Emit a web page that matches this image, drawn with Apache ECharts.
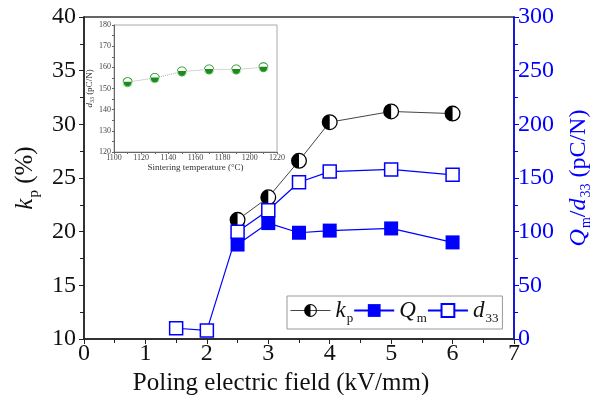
<!DOCTYPE html>
<html>
<head>
<meta charset="utf-8">
<script src="https://cdn.jsdelivr.net/npm/echarts@6/dist/echarts.min.js"></script>
<style>
  html, body { margin: 0; padding: 0; background: #fff; }
  #chart { width: 595px; height: 395px; }
</style>
</head>
<body>
<div id="chart"></div>
<script>
// main plot: poling field (kV/mm)
const kpField = [2.5, 3, 3.5, 4, 5, 6]
const kpValues = [21.1, 23.2, 26.6, 30.2, 31.2, 31.0]
const qmField = [2.5, 3, 3.5, 4, 5, 6]
const qmValues = [88, 108, 99, 101, 103, 90]
const d33Field = [1.5, 2, 2.5, 3, 3.5, 4, 5, 6]
const d33Values = [10, 8, 100, 120, 146, 156, 158, 153]
// inset: sintering temperature
const sinterTemp = [1110, 1130, 1150, 1170, 1190, 1210]
const insetD33 = [153, 155, 158, 159, 159, 160]

const BLUE = '#0000ff'
const FONT = "'Liberation Serif', 'Times New Roman', serif"

function pairs(xs, ys) {
  return xs.map((x, i) => [x, ys[i]])
}

// ring + left half disk
const halfLeft = 'path://M10,0 A10,10 0 1 1 10,20 A10,10 0 1 1 10,0 Z ' +
  'M10,1.6 A8.4,8.4 0 1 0 10,18.4 A8.4,8.4 0 1 0 10,1.6 Z ' +
  'M10,20 A10,10 0 0 1 10,0 Z'
// ring + bottom half disk
const halfBottom = 'path://M10,0 A10,10 0 1 1 10,20 A10,10 0 1 1 10,0 Z ' +
  'M10,1.6 A8.4,8.4 0 1 0 10,18.4 A8.4,8.4 0 1 0 10,1.6 Z ' +
  'M0,9 A10,10 0 0 0 20,9 Z'

const chart = echarts.init(document.getElementById('chart'))

const mainLabel = { fontFamily: FONT, fontSize: 24, color: '#111' }
const insetLabel = { fontFamily: FONT, fontSize: 8, color: '#444', formatter: v => String(v) }

const legendNames = {
  kp: '{i|k}{s|p}',
  Qm: '{i|Q}{s|m}',
  d33: '{i|d}{s|33}'
}

chart.setOption({
  animation: false,
  backgroundColor: '#fff',
  grid: [
    {
      left: 84, top: 17, right: 81, bottom: 56, outerBoundsMode: 'none',
      show: true, borderColor: '#333', borderWidth: 1.5
    },
    {
      left: 114, top: 25, width: 163, height: 127, outerBoundsMode: 'none',
      show: true, borderColor: '#aaa', borderWidth: 1, backgroundColor: '#fff'
    }
  ],
  legend: {
    left: 287,
    top: 296,
    padding: [3, 4, 4, 3],
    borderColor: '#999',
    borderWidth: 1,
    backgroundColor: '#fff',
    itemGap: 0,
    itemWidth: 40,
    itemHeight: 16,
    data: [
      { name: 'kp', lineStyle: { color: '#444', width: 1, opacity: 1 } },
      { name: 'Qm' },
      { name: 'd33' }
    ],
    formatter: name => legendNames[name],
    textStyle: {
      rich: {
        i: { fontFamily: FONT, fontSize: 23, fontStyle: 'italic', color: '#111' },
        s: { fontFamily: FONT, fontSize: 13, color: '#111', padding: [16, 0, 0, 1] }
      }
    }
  },
  xAxis: [
    {
      type: 'value', gridIndex: 0, min: 0, max: 7, interval: 1,
      name: 'Poling electric field (kV/mm)',
      nameLocation: 'middle', nameGap: 26,
      nameTextStyle: { fontFamily: FONT, fontSize: 25, color: '#111', padding: [0, 36, 0, 0] },
      axisLine: { lineStyle: { color: '#222', width: 1.5 } },
      axisTick: { show: true, length: 5, lineStyle: { color: '#222' } },
      minorTick: { show: true, splitNumber: 2, length: 4, lineStyle: { color: '#222' } },
      splitLine: { show: false },
      axisLabel: Object.assign({ margin: 3 }, mainLabel)
    },
    {
      type: 'value', gridIndex: 1, min: 1100, max: 1220, interval: 20,
      name: 'Sintering temperature (°C)',
      nameLocation: 'middle', nameGap: 10,
      nameTextStyle: { fontFamily: FONT, fontSize: 9, color: '#333' },
      axisLine: { lineStyle: { color: '#666', width: 1 } },
      axisTick: { show: true, length: 2, lineStyle: { color: '#666' } },
      minorTick: { show: true, splitNumber: 2, length: 2, lineStyle: { color: '#666' } },
      splitLine: { show: false },
      axisLabel: Object.assign({ margin: 2 }, insetLabel)
    }
  ],
  yAxis: [
    {
      type: 'value', gridIndex: 0, min: 10, max: 40, interval: 5,
      name: '{i|k}{s|p}{n| (%)}',
      nameLocation: 'middle', nameGap: 40, nameRotate: 90,
      nameTextStyle: {
        rich: {
          i: { fontFamily: FONT, fontSize: 25, fontStyle: 'italic', color: '#111' },
          s: { fontFamily: FONT, fontSize: 15, color: '#111', padding: [16, 0, 0, 1] },
          n: { fontFamily: FONT, fontSize: 25, color: '#111' }
        }
      },
      axisLine: { show: true, lineStyle: { color: '#222', width: 1.5 } },
      axisTick: { show: true, length: 5, lineStyle: { color: '#222' } },
      minorTick: { show: true, splitNumber: 2, length: 4, lineStyle: { color: '#222' } },
      splitLine: { show: false },
      axisLabel: Object.assign({ margin: 8 }, mainLabel)
    },
    {
      type: 'value', gridIndex: 0, position: 'right', min: 0, max: 300, interval: 50,
      name: '{i|Q}{s|m}{n|/}{i|d}{s|33}{n| (pC/N)}',
      nameLocation: 'middle', nameGap: 50, nameRotate: 90,
      nameTextStyle: {
        rich: {
          i: { fontFamily: FONT, fontSize: 24, fontStyle: 'italic', color: BLUE },
          s: { fontFamily: FONT, fontSize: 14, color: BLUE, padding: [15, 0, 0, 1] },
          n: { fontFamily: FONT, fontSize: 24, color: BLUE }
        }
      },
      axisLine: { show: true, lineStyle: { color: BLUE, width: 1.5 } },
      axisTick: { show: true, length: 5, lineStyle: { color: BLUE } },
      minorTick: { show: true, splitNumber: 2, length: 4, lineStyle: { color: BLUE } },
      splitLine: { show: false },
      axisLabel: Object.assign({}, mainLabel, { color: BLUE, margin: 4 })
    },
    {
      type: 'value', gridIndex: 1, min: 120, max: 180, interval: 10,
      name: '{i|d}{s|33}{n| (pC/N)}',
      nameLocation: 'middle', nameGap: 18, nameRotate: 90,
      nameTextStyle: {
        rich: {
          i: { fontFamily: FONT, fontSize: 9, fontStyle: 'italic', color: '#333' },
          s: { fontFamily: FONT, fontSize: 6, color: '#333', padding: [5, 0, 0, 0] },
          n: { fontFamily: FONT, fontSize: 9, color: '#333' }
        }
      },
      axisLine: { show: true, lineStyle: { color: '#666', width: 1 } },
      axisTick: { show: true, length: 2, lineStyle: { color: '#666' } },
      minorTick: { show: true, splitNumber: 2, length: 2, lineStyle: { color: '#666' } },
      splitLine: { show: false },
      axisLabel: Object.assign({ margin: 3 }, insetLabel)
    }
  ],
  series: [
    // kp: line, white underlay, half-filled circle on top
    {
      name: 'kpLine', type: 'line', xAxisIndex: 0, yAxisIndex: 0, z: 2,
      data: pairs(kpField, kpValues), showSymbol: false, silent: true,
      lineStyle: { color: '#444', width: 1 }
    },
    {
      name: 'kpFill', type: 'line', xAxisIndex: 0, yAxisIndex: 0, z: 3,
      data: pairs(kpField, kpValues), symbol: 'circle', symbolSize: 15, silent: true,
      itemStyle: { color: '#fff' }, lineStyle: { width: 0, opacity: 0 }
    },
    {
      name: 'kp', type: 'line', xAxisIndex: 0, yAxisIndex: 0, z: 4,
      data: pairs(kpField, kpValues), symbol: halfLeft, symbolSize: 16,
      itemStyle: { color: '#000' }, lineStyle: { width: 0, opacity: 0 }
    },
    {
      name: 'Qm', type: 'line', xAxisIndex: 0, yAxisIndex: 1, z: 5,
      data: pairs(qmField, qmValues), symbol: 'rect', symbolSize: 14,
      itemStyle: { color: BLUE }, lineStyle: { color: BLUE, width: 1.2 }
    },
    {
      name: 'd33', type: 'line', xAxisIndex: 0, yAxisIndex: 1, z: 6,
      data: pairs(d33Field, d33Values), symbol: 'rect', symbolSize: 13,
      itemStyle: { color: '#fff', borderColor: BLUE, borderWidth: 1.5 },
      lineStyle: { color: BLUE, width: 1.2 }
    },
    // inset
    {
      name: 'insetLine', type: 'line', xAxisIndex: 1, yAxisIndex: 2, z: 7,
      data: pairs(sinterTemp, insetD33), showSymbol: false, silent: true,
      lineStyle: { color: '#aaa', width: 1, type: 'dotted' }
    },
    {
      name: 'insetFill', type: 'line', xAxisIndex: 1, yAxisIndex: 2, z: 8,
      data: pairs(sinterTemp, insetD33), symbol: 'circle', symbolSize: 9, silent: true,
      itemStyle: { color: '#fff' }, lineStyle: { width: 0, opacity: 0 }
    },
    {
      name: 'insetD33', type: 'line', xAxisIndex: 1, yAxisIndex: 2, z: 9,
      data: pairs(sinterTemp, insetD33), symbol: halfBottom, symbolSize: 10, silent: true,
      itemStyle: { color: '#1a8c1a' }, lineStyle: { width: 0, opacity: 0 }
    }
  ]
})
</script>
</body>
</html>
